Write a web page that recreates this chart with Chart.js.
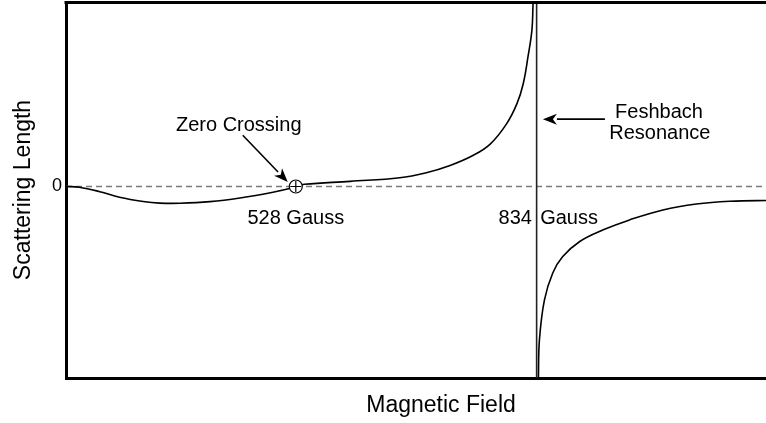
<!DOCTYPE html>
<html>
<head>
<meta charset="utf-8">
<script src="https://cdn.jsdelivr.net/npm/chart.js@4.4.0/dist/chart.umd.min.js"></script>
<style>
  html, body { margin: 0; background: #fff; overflow: hidden; }
</style>
</head>
<body>
<!-- the plot runs past the right edge of the window, as in the original -->
<canvas id="chart" width="816" height="423"></canvas>
<script>
// magnetic field (Gauss) and scattering length (arb. units), below resonance
var leftField  = [236, 253, 279, 304, 334, 355, 381, 419, 457, 499, 524, 528, 539, 597, 660, 695, 724, 753, 775, 796, 809, 817, 823, 828, 829.3, 829.9];
var leftLength = [0, -0.004, -0.028, -0.058, -0.081, -0.09, -0.091, -0.082, -0.062, -0.031, -0.007, 0, 0.012, 0.028, 0.047, 0.076, 0.114, 0.168, 0.230, 0.341, 0.449, 0.557, 0.702, 0.846, 0.972, 1.06];
// above resonance
var rightField  = [835.6, 836.3, 837.6, 843.9, 854.5, 867.2, 888.8, 918.7, 952.1, 994.5, 1036.9, 1079.4, 1126, 1189];
var rightLength = [-1.2, -1.035, -0.830, -0.616, -0.469, -0.380, -0.298, -0.235, -0.181, -0.127, -0.095, -0.080, -0.076, -0.075];

var zeroCrossing = 528;
var resonance = 834;
var fieldRange = [236, 1189];
var lengthRange = [-1.038, 1.0];
var yTicks = [0];

var FONT = '"Liberation Sans", Arial, Helvetica, sans-serif';

function toPts(xs, ys) {
  return xs.map(function (x, i) { return {x: x, y: ys[i]}; });
}

// labels and arrows, placed in data coordinates
var labels = [
  {text: 'Zero Crossing', x: 455.5, y: 0.333, align: 'center'},
  {text: zeroCrossing + ' Gauss', x: zeroCrossing, y: -0.175, align: 'center'},
  {text: String(resonance), x: 828, y: -0.175, align: 'right'},
  {text: 'Gauss', x: 838.5, y: -0.175, align: 'left'},
  {text: 'Feshbach', x: 989.5, y: 0.400, align: 'center'},
  {text: 'Resonance', x: 990.5, y: 0.288, align: 'center'}
];
var arrows = [
  {x1: 460.6, y1: 0.278, x2: 517.8, y2: 0.024},
  {x1: 920.8, y1: 0.365, x2: 842.0, y2: 0.365}
];

var annotate = {
  id: 'annotate',
  afterDatasetsDraw: function (chart) {
    var ctx = chart.ctx, xs = chart.scales.x, ys = chart.scales.y, a = chart.chartArea;
    ctx.save();
    // top frame line
    ctx.strokeStyle = '#000';
    ctx.lineWidth = 3;
    ctx.beginPath();
    ctx.moveTo(a.left - 1.5, a.top + 0.5);
    ctx.lineTo(a.right + 2, a.top + 0.5);
    ctx.stroke();

    ctx.fillStyle = '#000';
    ctx.font = '20px ' + FONT;
    ctx.textBaseline = 'middle';
    labels.forEach(function (l) {
      ctx.textAlign = l.align;
      ctx.fillText(l.text, xs.getPixelForValue(l.x), ys.getPixelForValue(l.y));
    });

    arrows.forEach(function (ar) {
      var x1 = xs.getPixelForValue(ar.x1), y1 = ys.getPixelForValue(ar.y1);
      var x2 = xs.getPixelForValue(ar.x2), y2 = ys.getPixelForValue(ar.y2);
      var ang = Math.atan2(y2 - y1, x2 - x1);
      var hl = 14, hw = 5.5;
      var bx = x2 - hl * Math.cos(ang), by = y2 - hl * Math.sin(ang);
      ctx.lineWidth = 1.6;
      ctx.beginPath();
      ctx.moveTo(x1, y1);
      ctx.lineTo(bx, by);
      ctx.stroke();
      ctx.beginPath();
      ctx.moveTo(x2, y2);
      ctx.lineTo(bx - hw * Math.sin(ang), by + hw * Math.cos(ang));
      ctx.lineTo(x2 - (hl - 4) * Math.cos(ang), y2 - (hl - 4) * Math.sin(ang));
      ctx.lineTo(bx + hw * Math.sin(ang), by - hw * Math.cos(ang));
      ctx.closePath();
      ctx.fill();
    });
    ctx.restore();
  }
};

function noPad(s) {
  s.paddingTop = 0; s.paddingBottom = 0; s.paddingLeft = 0; s.paddingRight = 0;
}

var ctx = document.getElementById('chart').getContext('2d');

var myChart = new Chart(ctx, {
  type: 'line',
  data: {
    datasets: [{
      // zero crossing marker: plus
      data: [{x: zeroCrossing, y: 0}],
      showLine: false,
      pointStyle: 'cross',
      pointRadius: 5.5,
      pointBorderColor: '#000',
      pointBorderWidth: 1.2
    }, {
      // zero crossing marker: circle
      data: [{x: zeroCrossing, y: 0}],
      showLine: false,
      pointStyle: 'circle',
      pointRadius: 6.5,
      pointBackgroundColor: '#fff',
      pointBorderColor: '#000',
      pointBorderWidth: 1.2
    }, {
      data: toPts(leftField, leftLength),
      borderColor: '#000',
      borderWidth: 1.6,
      pointRadius: 0,
      tension: 0.4
    }, {
      data: toPts(rightField, rightLength),
      borderColor: '#000',
      borderWidth: 1.6,
      pointRadius: 0,
      tension: 0.4
    }, {
      // resonance position
      data: [{x: resonance, y: -1.3}, {x: resonance, y: 1.3}],
      borderColor: '#222',
      borderWidth: 1.6,
      pointRadius: 0
    }, {
      // zero line
      data: [{x: fieldRange[0], y: 0}, {x: fieldRange[1], y: 0}],
      borderColor: '#7a7a7a',
      borderWidth: 1.5,
      borderDash: [6, 4],
      pointRadius: 0
    }]
  },
  options: {
    responsive: false,
    animation: false,
    layout: {autoPadding: false, padding: {top: 2, right: 0, bottom: 0, left: 0}},
    plugins: {
      legend: {display: false},
      tooltip: {enabled: false}
    },
    scales: {
      x: {
        type: 'linear',
        min: fieldRange[0],
        max: fieldRange[1],
        grid: {display: false, drawTicks: false},
        border: {display: true, color: '#000', width: 3},
        ticks: {display: false},
        title: {display: true, text: 'Magnetic Field', color: '#000',
                font: {family: FONT, size: 23}, padding: {top: 0, bottom: 4}},
        afterFit: function (s) { s.height = 45; noPad(s); }
      },
      y: {
        type: 'linear',
        min: lengthRange[0],
        max: lengthRange[1],
        grid: {display: false, drawTicks: false},
        border: {display: true, color: '#000', width: 3},
        afterBuildTicks: function (s) {
          s.ticks = yTicks.map(function (v) { return {value: v}; });
        },
        ticks: {color: '#000', padding: 4, font: {family: FONT, size: 18}},
        title: {display: true, text: 'Scattering Length', color: '#000',
                font: {family: FONT, size: 23}, padding: {top: 10, bottom: 0}},
        afterFit: function (s) { s.width = 66; noPad(s); }
      }
    }
  },
  plugins: [annotate]
});
</script>
</body>
</html>
